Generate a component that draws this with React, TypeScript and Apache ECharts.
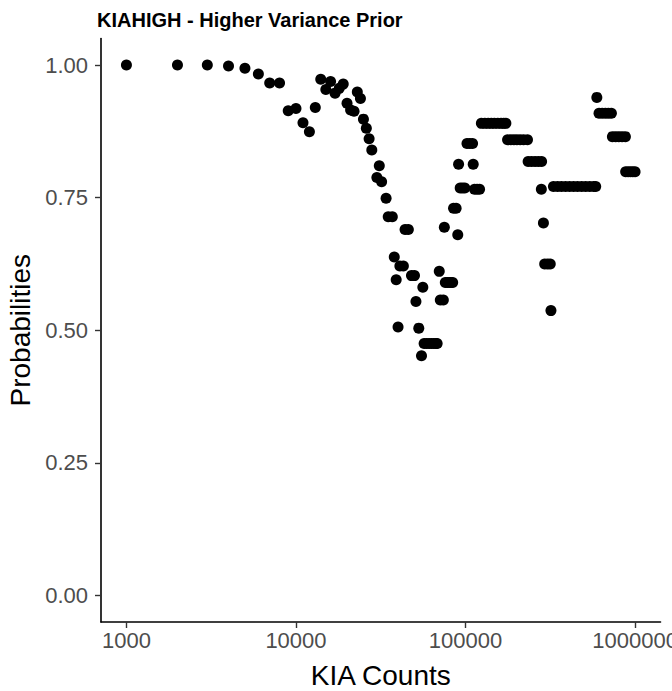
import React, { useEffect, useRef } from "react";
import * as echarts from "echarts";

// KIA counts (x) and the matching posterior probabilities (y)
const kiaCounts: number[] = [
  1000, 2000, 3000, 4000, 5000, 6000, 7000, 8000, 9000, 10000,
  11000, 12000, 13000, 14000, 15000, 16000, 17000, 18000, 19000, 20000,
  21000, 22000, 23000, 24000, 25000, 26000, 27000, 28000, 30000, 31000,
  32000, 34000, 35000, 37000, 38000, 39000, 40000, 41000, 43000, 44000,
  46000, 48000, 50000, 51000, 53000, 55000, 56000,
  57000, 59000, 61000, 63000, 65000, 67000, 68000,
  70000, 71000, 74000, 75000,
  76000, 78000, 80000, 82000, 84000,
  85000, 88000, 90000, 91000,
  93000, 96000, 99000,
  102000, 106000, 110000, 111000,
  113000, 117000, 121000,
  124000, 130000, 136000, 142000, 148000, 155000, 162000, 168000, 173000,
  177000, 185000, 193000, 201000, 210000, 220000, 232000,
  234000, 245000, 257000, 269000, 281000,
  280000, 288000, 293000, 305000, 316000, 319000,
  330000, 349000, 368000, 389000, 411000, 434000, 458000, 484000, 511000, 540000, 570000, 586000,
  595000,
  613000, 640000, 668000, 696000, 725000,
  735000, 768000, 802000, 838000, 877000,
  880000, 910000, 940000, 970000, 1000000,
];

const probabilities: number[] = [
  1.0, 1.0, 1.0, 0.998, 0.994, 0.983, 0.966, 0.966, 0.914, 0.918,
  0.891, 0.874, 0.92, 0.973, 0.954, 0.969, 0.947, 0.956, 0.964, 0.928,
  0.915, 0.913, 0.949, 0.937, 0.898, 0.881, 0.861, 0.84, 0.788, 0.81,
  0.78, 0.749, 0.714, 0.714, 0.638, 0.595, 0.506, 0.621, 0.621, 0.69,
  0.69, 0.603, 0.603, 0.554, 0.504, 0.452, 0.581,
  0.475, 0.475, 0.475, 0.475, 0.475, 0.475, 0.475,
  0.611, 0.557, 0.557, 0.694,
  0.59, 0.59, 0.59, 0.59, 0.59,
  0.73, 0.73, 0.68, 0.813,
  0.768, 0.768, 0.768,
  0.852, 0.852, 0.852, 0.813,
  0.766, 0.766, 0.766,
  0.89, 0.89, 0.89, 0.89, 0.89, 0.89, 0.89, 0.89, 0.89,
  0.859, 0.859, 0.859, 0.859, 0.859, 0.859, 0.859,
  0.818, 0.818, 0.818, 0.818, 0.818,
  0.766, 0.702, 0.625, 0.625, 0.625, 0.537,
  0.771, 0.771, 0.771, 0.771, 0.771, 0.771, 0.771, 0.771, 0.771, 0.771, 0.771, 0.771,
  0.939,
  0.909, 0.909, 0.909, 0.909, 0.909,
  0.865, 0.865, 0.865, 0.865, 0.865,
  0.799, 0.799, 0.799, 0.799, 0.799,
];

const xTicks: number[] = [1000, 10000, 100000, 1000000];
const yTicks: number[] = [0, 0.25, 0.5, 0.75, 1.0];

const TITLE = "KIAHIGH - Higher Variance Prior";
const FONT = "'Liberation Sans', Arial, sans-serif";

export default function App() {
  const ref = useRef<HTMLDivElement>(null);

  useEffect(() => {
    if (!ref.current) return;
    const chart = echarts.init(ref.current, null, { renderer: "svg" });
    const points = kiaCounts.map((c, i) => [c, probabilities[i]]);

    chart.setOption({
      animation: false,
      backgroundColor: "#ffffff",
      textStyle: { fontFamily: FONT },
      title: {
        text: TITLE,
        left: 97,
        top: 10,
        padding: 0,
        textStyle: { fontFamily: FONT, fontSize: 20, fontWeight: "bold", color: "#000000" },
      },
      // the last tick label runs past the right edge and is clipped there
      grid: {
        left: 101,
        right: 11.5,
        top: 38.5,
        bottom: 69,
        containLabel: false,
        outerBoundsMode: "none",
      },
      xAxis: {
        type: "log",
        logBase: 10,
        min: Math.pow(10, 2.85),
        max: Math.pow(10, 6.15),
        name: "KIA Counts",
        nameLocation: "middle",
        nameGap: 39,
        nameTextStyle: { fontFamily: FONT, fontSize: 28, color: "#000000" },
        axisLine: { show: true, onZero: false, lineStyle: { color: "#000000", width: 1.6 } },
        axisTick: { show: true, length: 6, customValues: xTicks, lineStyle: { color: "#333333", width: 1.4 } },
        axisLabel: {
          customValues: xTicks,
          fontFamily: FONT,
          fontSize: 22,
          color: "#4D4D4D",
          margin: 7,
          hideOverlap: false,
          formatter: (v: number) => String(Math.round(v)),
        },
        splitLine: { show: false },
        minorTick: { show: false },
      },
      yAxis: {
        type: "value",
        min: -0.05,
        max: 1.05,
        name: "Probabilities",
        nameLocation: "middle",
        nameGap: 57,
        nameRotate: 90,
        nameTextStyle: { fontFamily: FONT, fontSize: 28, color: "#000000" },
        axisLine: { show: true, onZero: false, lineStyle: { color: "#000000", width: 1.6 } },
        axisTick: { show: true, length: 6, customValues: yTicks, lineStyle: { color: "#333333", width: 1.4 } },
        axisLabel: {
          customValues: yTicks,
          fontFamily: FONT,
          fontSize: 22,
          color: "#4D4D4D",
          margin: 13,
          formatter: (v: number) => v.toFixed(2),
        },
        splitLine: { show: false },
      },
      series: [
        {
          type: "scatter",
          data: points,
          symbol: "circle",
          symbolSize: 11,
          itemStyle: { color: "#000000", opacity: 1 },
          silent: true,
        },
      ],
    });

    return () => chart.dispose();
  }, []);

  return (
    <div
      ref={ref}
      style={{ position: "absolute", left: 0, top: 0, width: 672, height: 691 }}
    />
  );
}
